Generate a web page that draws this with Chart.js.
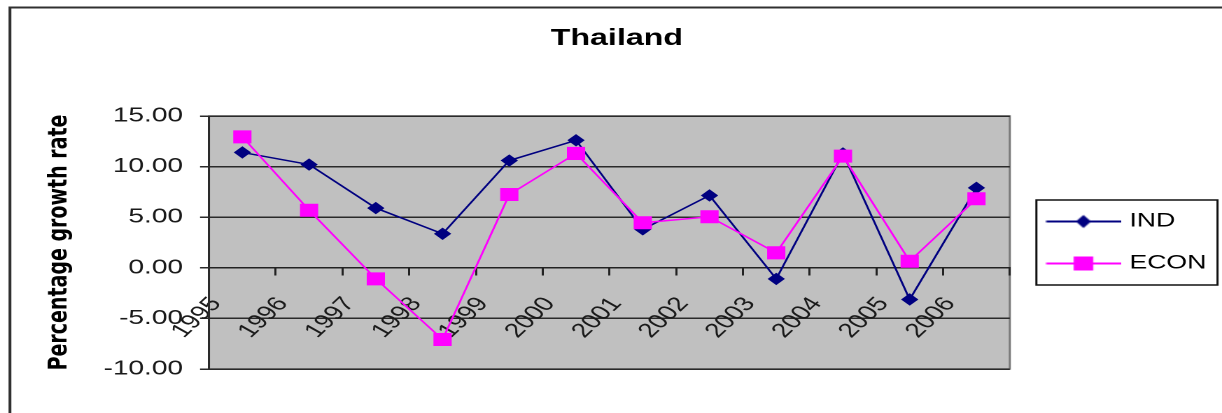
<!DOCTYPE html>
<html>
<head>
<meta charset="utf-8">
<title>Thailand</title>
<script src="https://cdn.jsdelivr.net/npm/chart.js@4.4.1/dist/chart.umd.min.js"></script>
<style>
  html, body { margin: 0; padding: 0; background: #fff; overflow: hidden; }
  /* the chart is laid out narrow and widened, like a resized spreadsheet chart */
  #stage { position: absolute; left: 0; top: 0; width: 873px; height: 413px;
           transform: scaleX(1.39977); transform-origin: 0 0; }
</style>
</head>
<body>
<div id="stage"><canvas id="chart"></canvas></div>
<script>
// Annual growth rates (%), Thailand
const years = ['1995', '1996', '1997', '1998', '1999', '2000', '2001', '2002', '2003', '2004', '2005', '2006'];
const indGrowth  = [11.4, 10.2, 5.9, 3.36, 10.6, 12.6, 3.8, 7.15, -1.1, 11.3, -3.13, 7.9];
const econGrowth = [12.94, 5.69, -1.09, -7.08, 7.24, 11.3, 4.45, 5.04, 1.48, 11.03, 0.65, 6.82];
const yTicks = [-10, -5, 0, 5, 10, 15];

const IND_COLOR = '#000080';
const ECON_COLOR = '#ff00ff';
const TEXT = '#1a1a1a';
const SANS = '"Liberation Sans", Arial, sans-serif';

// legend swatch: a short line with the series marker in it
function swatch(color, shape) {
  const c = document.createElement('canvas');
  c.width = 60; c.height = 16;
  const g = c.getContext('2d');
  g.strokeStyle = color; g.lineWidth = 2;
  g.beginPath(); g.moveTo(6.4, 8); g.lineTo(60, 8); g.stroke();
  g.fillStyle = color;
  const mx = 33.1;
  if (shape === 'diamond') {
    g.beginPath(); g.moveTo(mx - 5.5, 8); g.lineTo(mx, 1.5); g.lineTo(mx + 5.5, 8); g.lineTo(mx, 14.5);
    g.closePath(); g.fill();
  } else {
    g.fillRect(mx - 7, 1, 14, 14);
  }
  return c;
}
const swatches = [swatch(IND_COLOR, 'diamond'), swatch(ECON_COLOR, 'square')];

// grey plot area and the outer frame
const plotBackdrop = {
  id: 'plotBackdrop',
  beforeDraw(chart) {
    const { ctx, chartArea: a } = chart;
    ctx.save();
    ctx.fillStyle = '#c0c0c0';
    ctx.fillRect(a.left, a.top, a.width, a.height);
    ctx.strokeStyle = '#7a7a7a';
    ctx.lineWidth = 1.5;
    ctx.strokeRect(a.left, a.top, a.width, a.height);
    ctx.strokeStyle = '#303030';
    ctx.lineWidth = 2;
    ctx.beginPath();
    ctx.moveTo(7.1, chart.height + 2);
    ctx.lineTo(7.1, 7.5);
    ctx.lineTo(chart.width + 2, 7.5);
    ctx.stroke();
    ctx.restore();
  }
};

// box round the legend
const legendFrame = {
  id: 'legendFrame',
  afterDraw(chart) {
    const lg = chart.legend;
    const hb = lg && lg.legendHitBoxes;
    if (!hb || !hb.length) return;
    const last = hb[hb.length - 1];
    const top = hb[0].top - 12;
    const bottom = last.top + last.height + 12;
    const left = lg.left + 19;
    const right = lg.right - 2;
    const ctx = chart.ctx;
    ctx.save();
    ctx.strokeStyle = '#111';
    ctx.lineWidth = 1.5;
    ctx.strokeRect(left, top, right - left, bottom - top);
    ctx.restore();
  }
};

new Chart(document.getElementById('chart'), {
  type: 'line',
  data: {
    labels: years,
    datasets: [
      {
        label: 'IND',
        data: indGrowth,
        order: 2,
        borderColor: IND_COLOR,
        backgroundColor: IND_COLOR,
        borderWidth: 1.5,
        pointStyle: 'rectRot',
        pointRadius: 5.5,
        pointBorderWidth: 1,
        pointBackgroundColor: IND_COLOR,
        pointBorderColor: IND_COLOR,
        tension: 0
      },
      {
        label: 'ECON',
        data: econGrowth,
        order: 1,
        borderColor: ECON_COLOR,
        backgroundColor: ECON_COLOR,
        borderWidth: 1.5,
        pointStyle: 'rect',
        pointRadius: 8.5,
        pointBorderWidth: 1,
        pointBackgroundColor: ECON_COLOR,
        pointBorderColor: ECON_COLOR,
        tension: 0
      }
    ]
  },
  options: {
    responsive: true,
    maintainAspectRatio: false,
    devicePixelRatio: 2,
    animation: false,
    events: [],
    layout: { padding: { left: 9.6, right: 1.2, top: 0, bottom: 44 } },
    scales: {
      x: {
        type: 'category',
        position: { y: 0 },
        offset: true,
        grid: {
          offset: true,
          drawOnChartArea: false,
          drawTicks: true,
          tickLength: 7,
          color: '#222',
          lineWidth: 1.5
        },
        border: { display: true, color: '#222', width: 1.5 },
        ticks: {
          autoSkip: false,
          minRotation: 52,
          maxRotation: 52,
          labelOffset: -18.8,
          padding: 18,
          color: TEXT,
          font: { family: SANS, size: 20 }
        }
      },
      y: {
        min: yTicks[0],
        max: yTicks[yTicks.length - 1],
        afterFit(scale) { scale.width = 139.7; },
        ticks: {
          stepSize: yTicks[1] - yTicks[0],
          padding: 12.2,
          color: TEXT,
          font: { family: SANS, size: 20 },
          callback: (v) => Number(v).toFixed(2)
        },
        grid: { color: '#2a2a2a', lineWidth: 1.5, tickLength: 6.4 },
        border: { display: true, color: '#2a2a2a', width: 1.5 },
        title: {
          display: true,
          text: 'Percentage growth rate',
          color: '#000',
          padding: { top: 21.6, bottom: 0 },
          font: { family: '"DejaVu Sans", sans-serif', size: 19, weight: 'bold' }
        }
      }
    },
    plugins: {
      title: {
        display: true,
        text: 'Thailand',
        color: '#000',
        font: { family: SANS, size: 23, weight: 'bold' },
        padding: { top: 24.9, bottom: 63.5 }
      },
      legend: {
        display: true,
        position: 'right',
        fullSize: false,
        labels: {
          usePointStyle: true,
          pointStyleWidth: 53,
          padding: 23,
          color: '#000',
          font: { family: SANS, size: 19 },
          sort: (a, b) => a.datasetIndex - b.datasetIndex,
          generateLabels(chart) {
            const items = Chart.defaults.plugins.legend.labels.generateLabels(chart);
            items.forEach((it) => { it.pointStyle = swatches[it.datasetIndex]; it.lineWidth = 0; });
            return items;
          }
        }
      },
      tooltip: { enabled: false }
    }
  },
  plugins: [plotBackdrop, legendFrame]
});
</script>
</body>
</html>
